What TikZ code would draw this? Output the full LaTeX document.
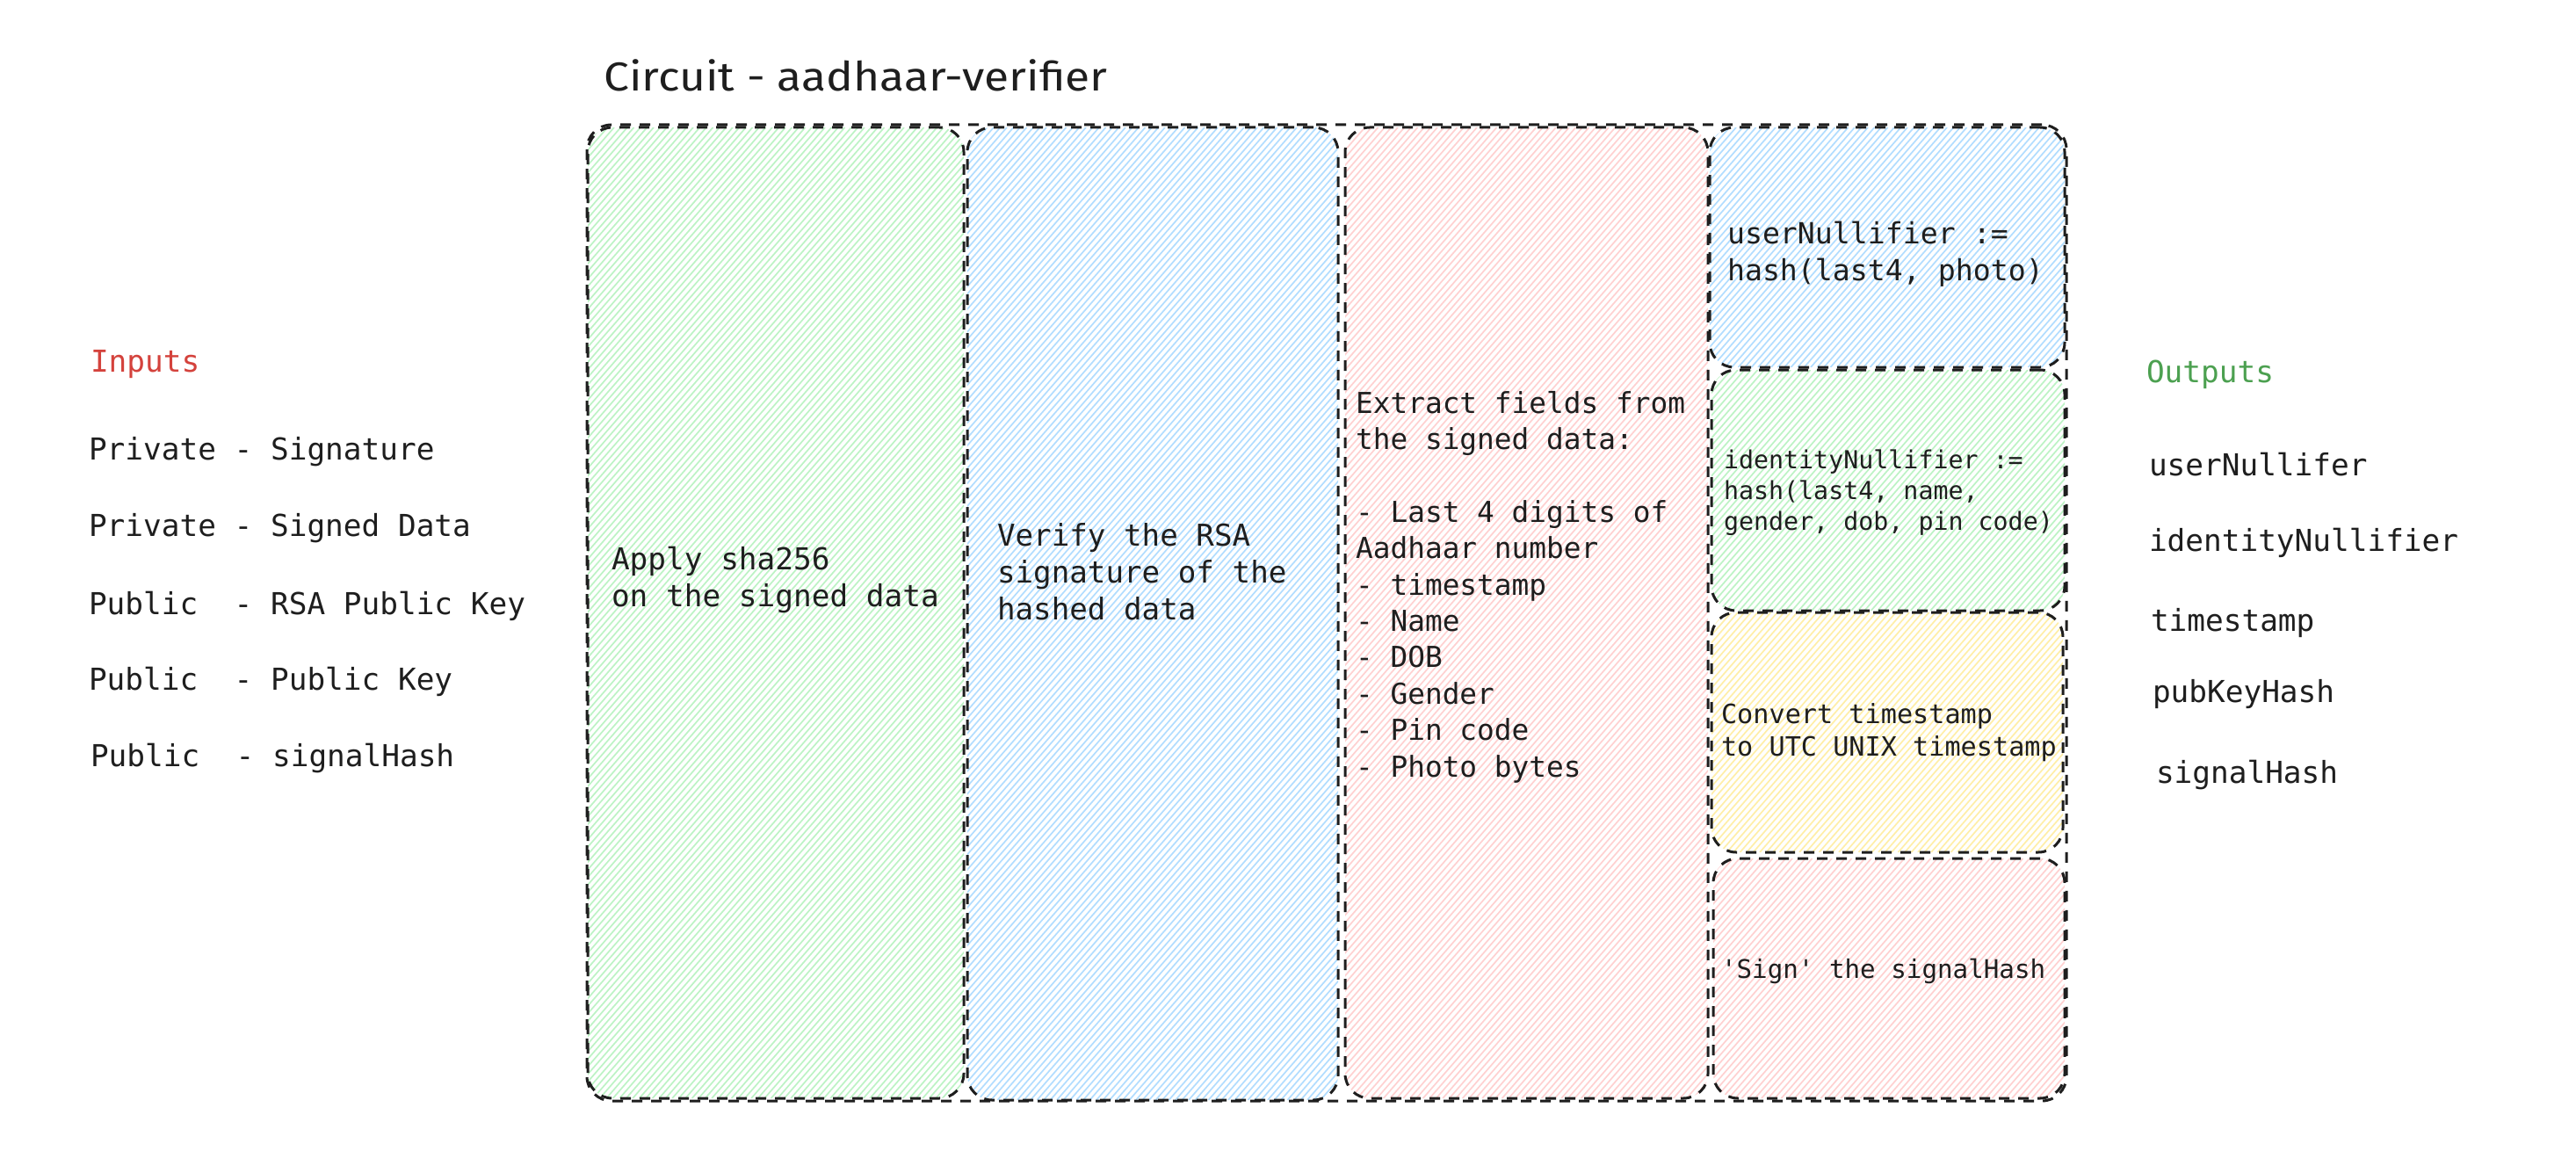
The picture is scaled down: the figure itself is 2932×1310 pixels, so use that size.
\documentclass[tikz,border=0pt]{standalone}
\usepackage{fontspec}
\setmonofont{DejaVu Sans Mono}
\newfontfamily\titlefont{Fira Sans}[FakeStretch=1.12]
\usetikzlibrary{fit}
\definecolor{ink}{HTML}{1E1E1E}
\definecolor{hgreen}{HTML}{B2F2BB}
\definecolor{hblue}{HTML}{A5D8FF}
\definecolor{hred}{HTML}{FFC9C9}
\definecolor{hyellow}{HTML}{FFEC99}
\definecolor{inred}{RGB}{212,66,60}
\definecolor{outgreen}{RGB}{76,160,80}
\newcommand\hachurefill[5]{%
  \begin{scope}
    \clip[rounded corners=14pt] (#1,#2) rectangle (#3,#4);
    \pgfmathsetmacro\hh{(#4-#2)*0.87}
    \pgfmathsetmacro\hstart{#1-\hh}
    \pgfmathsetmacro\hsecond{\hstart+7.5}
    \foreach \a in {\hstart,\hsecond,...,#3}
      \draw[#5, line width=0.85pt, draw opacity=0.85] (\a,#4) -- ({\a+\hh},#2);
  \end{scope}}
\newcommand\panel[6]{%
  \hachurefill{#2}{#3}{#4}{#5}{#6}
  \node[panelbox, fit={(#2,#3) (#4,#5)}] (#1) {};}
\tikzset{
  panelbox/.style={draw=ink, dash pattern=on 6pt off 5pt, line width=1.5pt,
    rounded corners=14pt, inner sep=0pt, outer sep=0pt},
  txt/.style={anchor=base west, inner sep=0pt, outer sep=0pt, text=ink, align=left,
    font=\ttfamily\fontsize{17.2}{20.8}\selectfont},
}
\begin{document}
\begin{tikzpicture}[x=0.5pt,y=-0.5pt]
\useasboundingbox[fill=white] (0,0) rectangle (2932,1310);

% title
\node[anchor=base west, inner sep=0pt, text=ink, font=\titlefont\fontsize{23}{27}\selectfont] (title) at (687,104) {Circuit - aadhaar-verifier};

% panels
\panel{sha}{669}{145}{1097}{1250}{hgreen}
\panel{rsa}{1101}{145}{1523}{1252}{hblue}
\panel{extract}{1531}{145}{1944}{1250}{hred}
\panel{usernull}{1946}{145}{2350}{418}{hblue}
\panel{idnull}{1948}{421}{2350}{695}{hgreen}
\panel{conv}{1948}{697}{2348}{970}{hyellow}
\panel{sign}{1950}{977}{2350}{1250}{hred}
\node[panelbox, fit={(668,142) (2352,1253)}] (circuit) {};

% panel texts (anchor = baseline of last line)
\node[txt] (shatext) at (696,690) {Apply sha256\\on the signed data};
\node[txt, font=\ttfamily\fontsize{17.1}{21}\selectfont] (rsatext) at (1135,705) {Verify the RSA\\signature of the\\hashed data};
\node[txt, font=\ttfamily\fontsize{16.4}{20.7}\selectfont] (extracttext) at (1543,884) {Extract fields from\\the signed data:\\[20.7pt]- Last 4 digits of\\Aadhaar number\\- timestamp\\- Name\\- DOB\\- Gender\\- Pin code\\- Photo bytes};
\node[txt, font=\ttfamily\fontsize{16.6}{21}\selectfont] (usernulltext) at (1966,320) {userNullifier :=\\hash(last4, photo)};
\node[txt, font=\ttfamily\fontsize{14.15}{17.5}\selectfont] (idnulltext) at (1962,603) {identityNullifier :=\\hash(last4, name,\\gender, dob, pin code)};
\node[txt, font=\ttfamily\fontsize{15.1}{18.5}\selectfont] (convtext) at (1959,860) {Convert timestamp\\to UTC UNIX timestamp};
\node[txt, font=\ttfamily\fontsize{14.6}{18}\selectfont] (signtext) at (1959,1113) {\textquotesingle Sign\textquotesingle{} the signalHash};

% inputs
\node[txt, text=inred] (inputs) at (103,423) {Inputs};
\node[txt] (in1) at (101,523) {Private - Signature};
\node[txt] (in2) at (101,610) {Private - Signed Data};
\node[txt] (in3) at (101,699) {Public~~- RSA Public Key};
\node[txt] (in4) at (101,785) {Public~~- Public Key};
\node[txt] (in5) at (103,872) {Public~~- signalHash};

% outputs
\node[txt, text=outgreen] (outputs) at (2443,436) {Outputs};
\node[txt] (out1) at (2446,541) {userNullifer};
\node[txt] (out2) at (2446,627) {identityNullifier};
\node[txt] (out3) at (2448,718) {timestamp};
\node[txt] (out4) at (2450,799) {pubKeyHash};
\node[txt] (out5) at (2454,891) {signalHash};
\end{tikzpicture}
\end{document}
